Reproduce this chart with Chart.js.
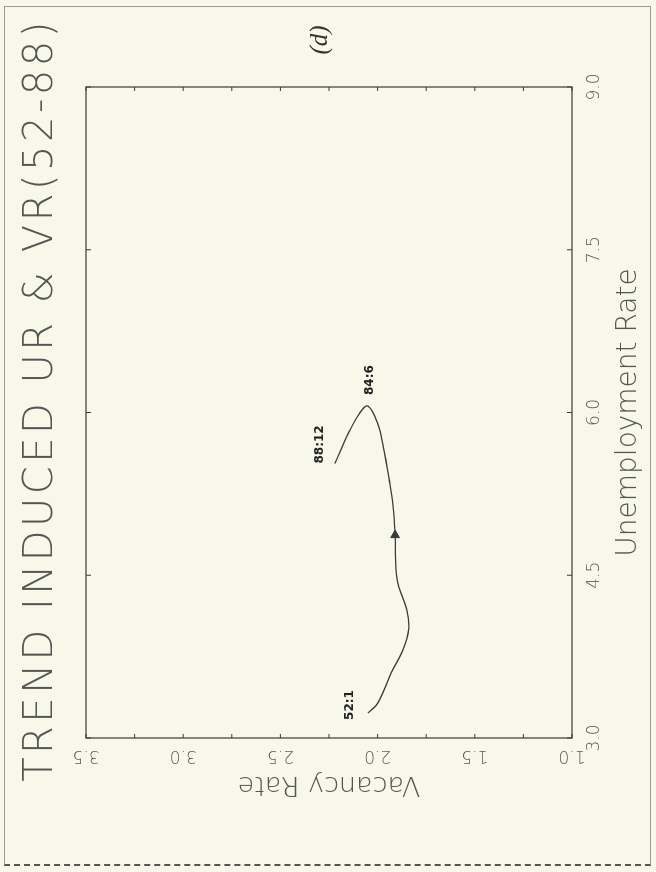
<!DOCTYPE html>
<html>
<head>
<meta charset="utf-8">
<script src="https://cdn.jsdelivr.net/npm/chart.js@4"></script>
<style>
  html, body { margin: 0; padding: 0; background: #f7f8e9; }
  body { width: 656px; height: 872px; position: relative; overflow: hidden; }
  #chart {
    position: absolute; left: 0; top: 0; width: 872px; height: 656px;
    transform-origin: 0 0; transform: translate(0, 872px) rotate(-90deg);
  }
  #border {
    position: absolute; left: 4px; top: 6px; width: 645px; height: 857px;
    border: 1px solid #9a9a94; border-bottom: 2px dashed #555;
  }
</style>
</head>
<body>
<div id="border"></div>
<canvas id="chart" width="872" height="656"></canvas>
<script>
const chartTitle = 'TREND INDUCED UR & VR(52-88)'
const panelLabel = '(d)'
const unempRate = [3.23, 3.32, 3.60, 3.81, 4.00, 4.18, 4.46, 4.87, 5.13, 5.38, 5.68, 5.90, 6.06, 6.00, 5.81, 5.65, 5.53]
const vacRate = [2.05, 2.00, 1.93, 1.87, 1.84, 1.85, 1.90, 1.91, 1.92, 1.94, 1.97, 2.00, 2.05, 2.09, 2.15, 2.19, 2.22]
const arrowAt = { x: 4.87, y: 1.91 }
const dateLabels = ['52:1', '84:6', '88:12']
const dateIndex = [0, 12, 16]
const urTicks = [3.0, 4.5, 6.0, 7.5, 9.0]

Chart.defaults.font.family = "'DejaVu Sans', sans-serif"
Chart.defaults.font.weight = 200
Chart.defaults.color = '#555'

const ink = '#3a3a3a'

const decor = {
  id: 'decor',
  afterDatasetsDraw(chart) {
    const { ctx, chartArea: a, scales: { x, y } } = chart
    ctx.save()
    ctx.strokeStyle = ink
    ctx.lineWidth = 1.2
    ctx.strokeRect(a.left, a.top, a.width, a.height)
    ctx.lineWidth = 1
    ctx.beginPath()
    x.ticks.forEach(t => {
      const px = x.getPixelForValue(t.value)
      ctx.moveTo(px, a.top); ctx.lineTo(px, a.top + 5)
      ctx.moveTo(px, a.bottom); ctx.lineTo(px, a.bottom - 5)
    })
    y.ticks.forEach(t => {
      const py = y.getPixelForValue(t.value)
      ctx.moveTo(a.left, py); ctx.lineTo(a.left + 4, py)
      ctx.moveTo(a.right, py); ctx.lineTo(a.right - 4, py)
    })
    ctx.stroke()

    const meta = chart.getDatasetMeta(0)
    ctx.fillStyle = '#222'
    ctx.font = "bold 12px 'DejaVu Sans'"
    ctx.textBaseline = 'middle'
    const offs = [[8, -18, 'center'], [11, 2, 'left'], [0, -15, 'left']]
    dateIndex.forEach((idx, i) => {
      const p = meta.data[idx]
      ctx.textAlign = offs[i][2]
      ctx.fillText(dateLabels[i], p.x + offs[i][0], p.y + offs[i][1])
    })
    ctx.restore()
  },
  afterDraw(chart) {
    const ctx = chart.ctx
    ctx.save()
    ctx.fillStyle = '#555'
    ctx.textAlign = 'center'
    ctx.textBaseline = 'middle'
    ctx.font = "200 40px 'DejaVu Sans'"
    ctx.letterSpacing = '3.5px'
    ctx.fillText(chartTitle, 472, 42)
    ctx.letterSpacing = '0px'
    ctx.fillStyle = '#333'
    ctx.font = "italic 400 25px 'Liberation Serif'"
    ctx.fillText(panelLabel, 832, 320)
    ctx.restore()
  }
}

new Chart(document.getElementById('chart'), {
  type: 'scatter',
  data: {
    datasets: [
      {
        data: unempRate.map((v, i) => ({ x: v, y: vacRate[i] })),
        showLine: true,
        borderColor: ink,
        borderWidth: 1.3,
        tension: 0.4,
        pointRadius: 0
      },
      {
        data: [arrowAt],
        pointStyle: 'triangle',
        rotation: 90,
        pointRadius: 5,
        backgroundColor: ink,
        borderColor: ink,
        borderWidth: 1
      }
    ]
  },
  options: {
    responsive: false,
    animation: false,
    layout: { padding: { left: 72, right: 87, top: 86, bottom: 10 } },
    plugins: { legend: { display: false }, tooltip: { enabled: false } },
    scales: {
      x: {
        type: 'linear', min: 3, max: 9,
        afterBuildTicks: s => { s.ticks = urTicks.map(v => ({ value: v })) },
        afterFit: s => { s.height = 74 },
        grid: { display: false, drawTicks: false },
        border: { display: false },
        ticks: { padding: 12, font: { size: 17 }, callback: v => v.toFixed(1) },
        title: { display: true, text: 'Unemployment Rate', padding: 0, font: { size: 28 } }
      },
      y: {
        type: 'linear', min: 1, max: 3.5,
        afterFit: s => { s.width = 62 },
        grid: { display: false, drawTicks: false },
        border: { display: false },
        ticks: {
          stepSize: 0.25, minRotation: 90, maxRotation: 90, crossAlign: 'center', padding: 4,
          font: { size: 17 },
          callback: v => (Math.abs(v * 2 - Math.round(v * 2)) < 1e-6 ? v.toFixed(1) : '')
        },
        title: { display: true, text: 'Vacancy Rate', padding: 0, font: { size: 27 } }
      }
    }
  },
  plugins: [decor]
})
</script>
</body>
</html>
